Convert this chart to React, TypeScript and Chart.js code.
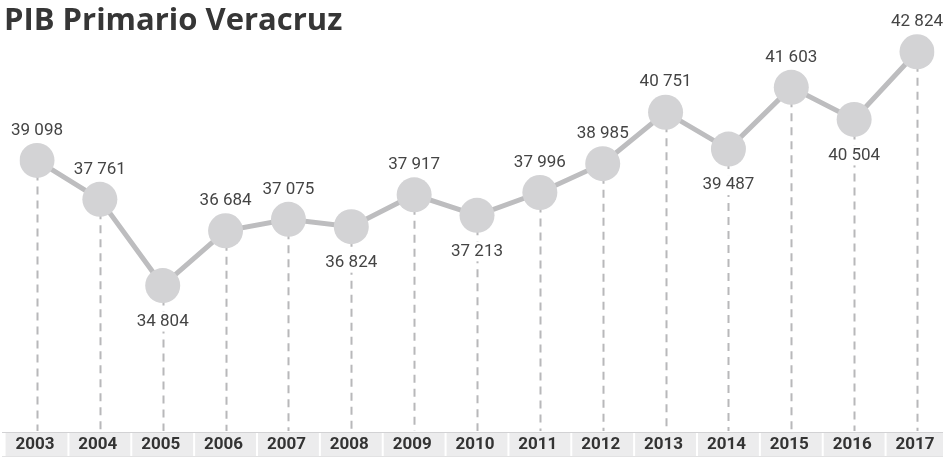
import React, { useEffect, useRef } from "react";
import { Chart, registerables } from "chart.js";

Chart.register(...registerables);

const TITLE = "PIB Primario Veracruz";
const YEARS = ["2003", "2004", "2005", "2006", "2007", "2008", "2009", "2010", "2011", "2012", "2013", "2014", "2015", "2016", "2017"];
const PIB_VALUES = [39098, 37761, 34804, 36684, 37075, 36824, 37917, 37213, 37996, 38985, 40751, 39487, 41603, 40504, 42824];

const fmt = (v: number) => {
  const s = String(Math.round(v));
  return s.replace(/\B(?=(\d{3})+(?!\d))/g, " ");
};

const decorPlugin = {
  id: "decor",
  beforeDatasetsDraw(chart: any) {
    const ctx = chart.ctx;
    const meta = chart.getDatasetMeta(0);
    const boxTop = 432;
    const boxH = 24;
    ctx.save();
    // dashed drop lines
    ctx.strokeStyle = "#b8b8ba";
    ctx.lineWidth = 2;
    ctx.setLineDash([8, 6]);
    meta.data.forEach((pt: any) => {
      ctx.beginPath();
      ctx.moveTo(Math.round(pt.x) + 0.5, pt.y + 12);
      ctx.lineTo(Math.round(pt.x) + 0.5, boxTop - 1);
      ctx.stroke();
    });
    ctx.setLineDash([]);
    // category boxes
    const n = meta.data.length;
    const step = (meta.data[n - 1].x - meta.data[0].x) / (n - 1);
    const W = chart.width;
    meta.data.forEach((pt: any, i: number) => {
      const l = Math.max(pt.x - step / 2, 2);
      const r = Math.min(pt.x + step / 2, W - 1);
      ctx.fillStyle = "#ececed";
      ctx.fillRect(l, boxTop, r - l, boxH);
      if (i > 0) {
        ctx.fillStyle = "#ffffff";
        ctx.fillRect(l - 1, boxTop, 2, boxH);
      }
      ctx.fillStyle = "#333333";
      ctx.font = "bold 17px Roboto";
      ctx.textAlign = "center";
      ctx.textBaseline = "middle";
      ctx.fillText(YEARS[i], pt.x - 2, boxTop + boxH / 2 + 1);
    });
    ctx.fillStyle = "#d2d2d4";
    ctx.fillRect(2, boxTop, W - 3, 1);
    ctx.fillStyle = "#e2e2e3";
    ctx.fillRect(2, boxTop + boxH, W - 3, 1);
    ctx.restore();
  },
  afterDatasetsDraw(chart: any) {
    const ctx = chart.ctx;
    const meta = chart.getDatasetMeta(0);
    const vals = chart.data.datasets[0].data as number[];
    ctx.save();
    ctx.font = "17px Roboto";
    ctx.textAlign = "center";
    ctx.textBaseline = "middle";
    meta.data.forEach((pt: any, i: number) => {
      const v = vals[i];
      const prev = i > 0 ? vals[i - 1] : -Infinity;
      const next = i < vals.length - 1 ? vals[i + 1] : -Infinity;
      const below = v < prev && v < next;
      const txt = fmt(v);
      const y = below ? pt.y + 36 : pt.y - 30;
      if (below) {
        const w = ctx.measureText(txt).width;
        ctx.fillStyle = "#ffffff";
        ctx.fillRect(pt.x - w / 2 - 2, y - 10, w + 4, 20);
      }
      ctx.fillStyle = "#444444";
      ctx.fillText(txt, pt.x, y);
    });
    // title
    ctx.fillStyle = "#363636";
    ctx.font = "bold 31px 'Open Sans'";
    ctx.textAlign = "left";
    ctx.textBaseline = "alphabetic";
    ctx.fillText(TITLE, 4, 30);
    ctx.restore();
  },
};

export default function App() {
  const ref = useRef<HTMLCanvasElement | null>(null);
  useEffect(() => {
    document.body.style.margin = "0";
    if (!ref.current) return;
    const chart = new Chart(ref.current, {
      type: "line",
      data: {
        labels: YEARS,
        datasets: [
          {
            data: PIB_VALUES,
            borderColor: "#bdbdbf",
            borderWidth: 5,
            pointRadius: 17.5,
            pointHoverRadius: 17.5,
            pointBackgroundColor: "#d3d3d5",
            pointBorderColor: "#d3d3d5",
            pointBorderWidth: 0,
            tension: 0,
            fill: false,
          },
        ],
      },
      options: {
        responsive: false,
        animation: false,
        layout: { padding: { left: 37, right: 27, top: 10, bottom: 32.4 } },
        plugins: { legend: { display: false }, tooltip: { enabled: false }, title: { display: false } },
        scales: {
          x: { type: "category", display: false, offset: false },
          y: { display: false, min: 30000, max: 44000 },
        },
      },
      plugins: [decorPlugin],
    });
    return () => chart.destroy();
  }, []);
  return (
    <div style={{ width: 944, height: 458 }}>
      <canvas ref={ref} width={944} height={458} style={{ display: "block" }} />
    </div>
  );
}
